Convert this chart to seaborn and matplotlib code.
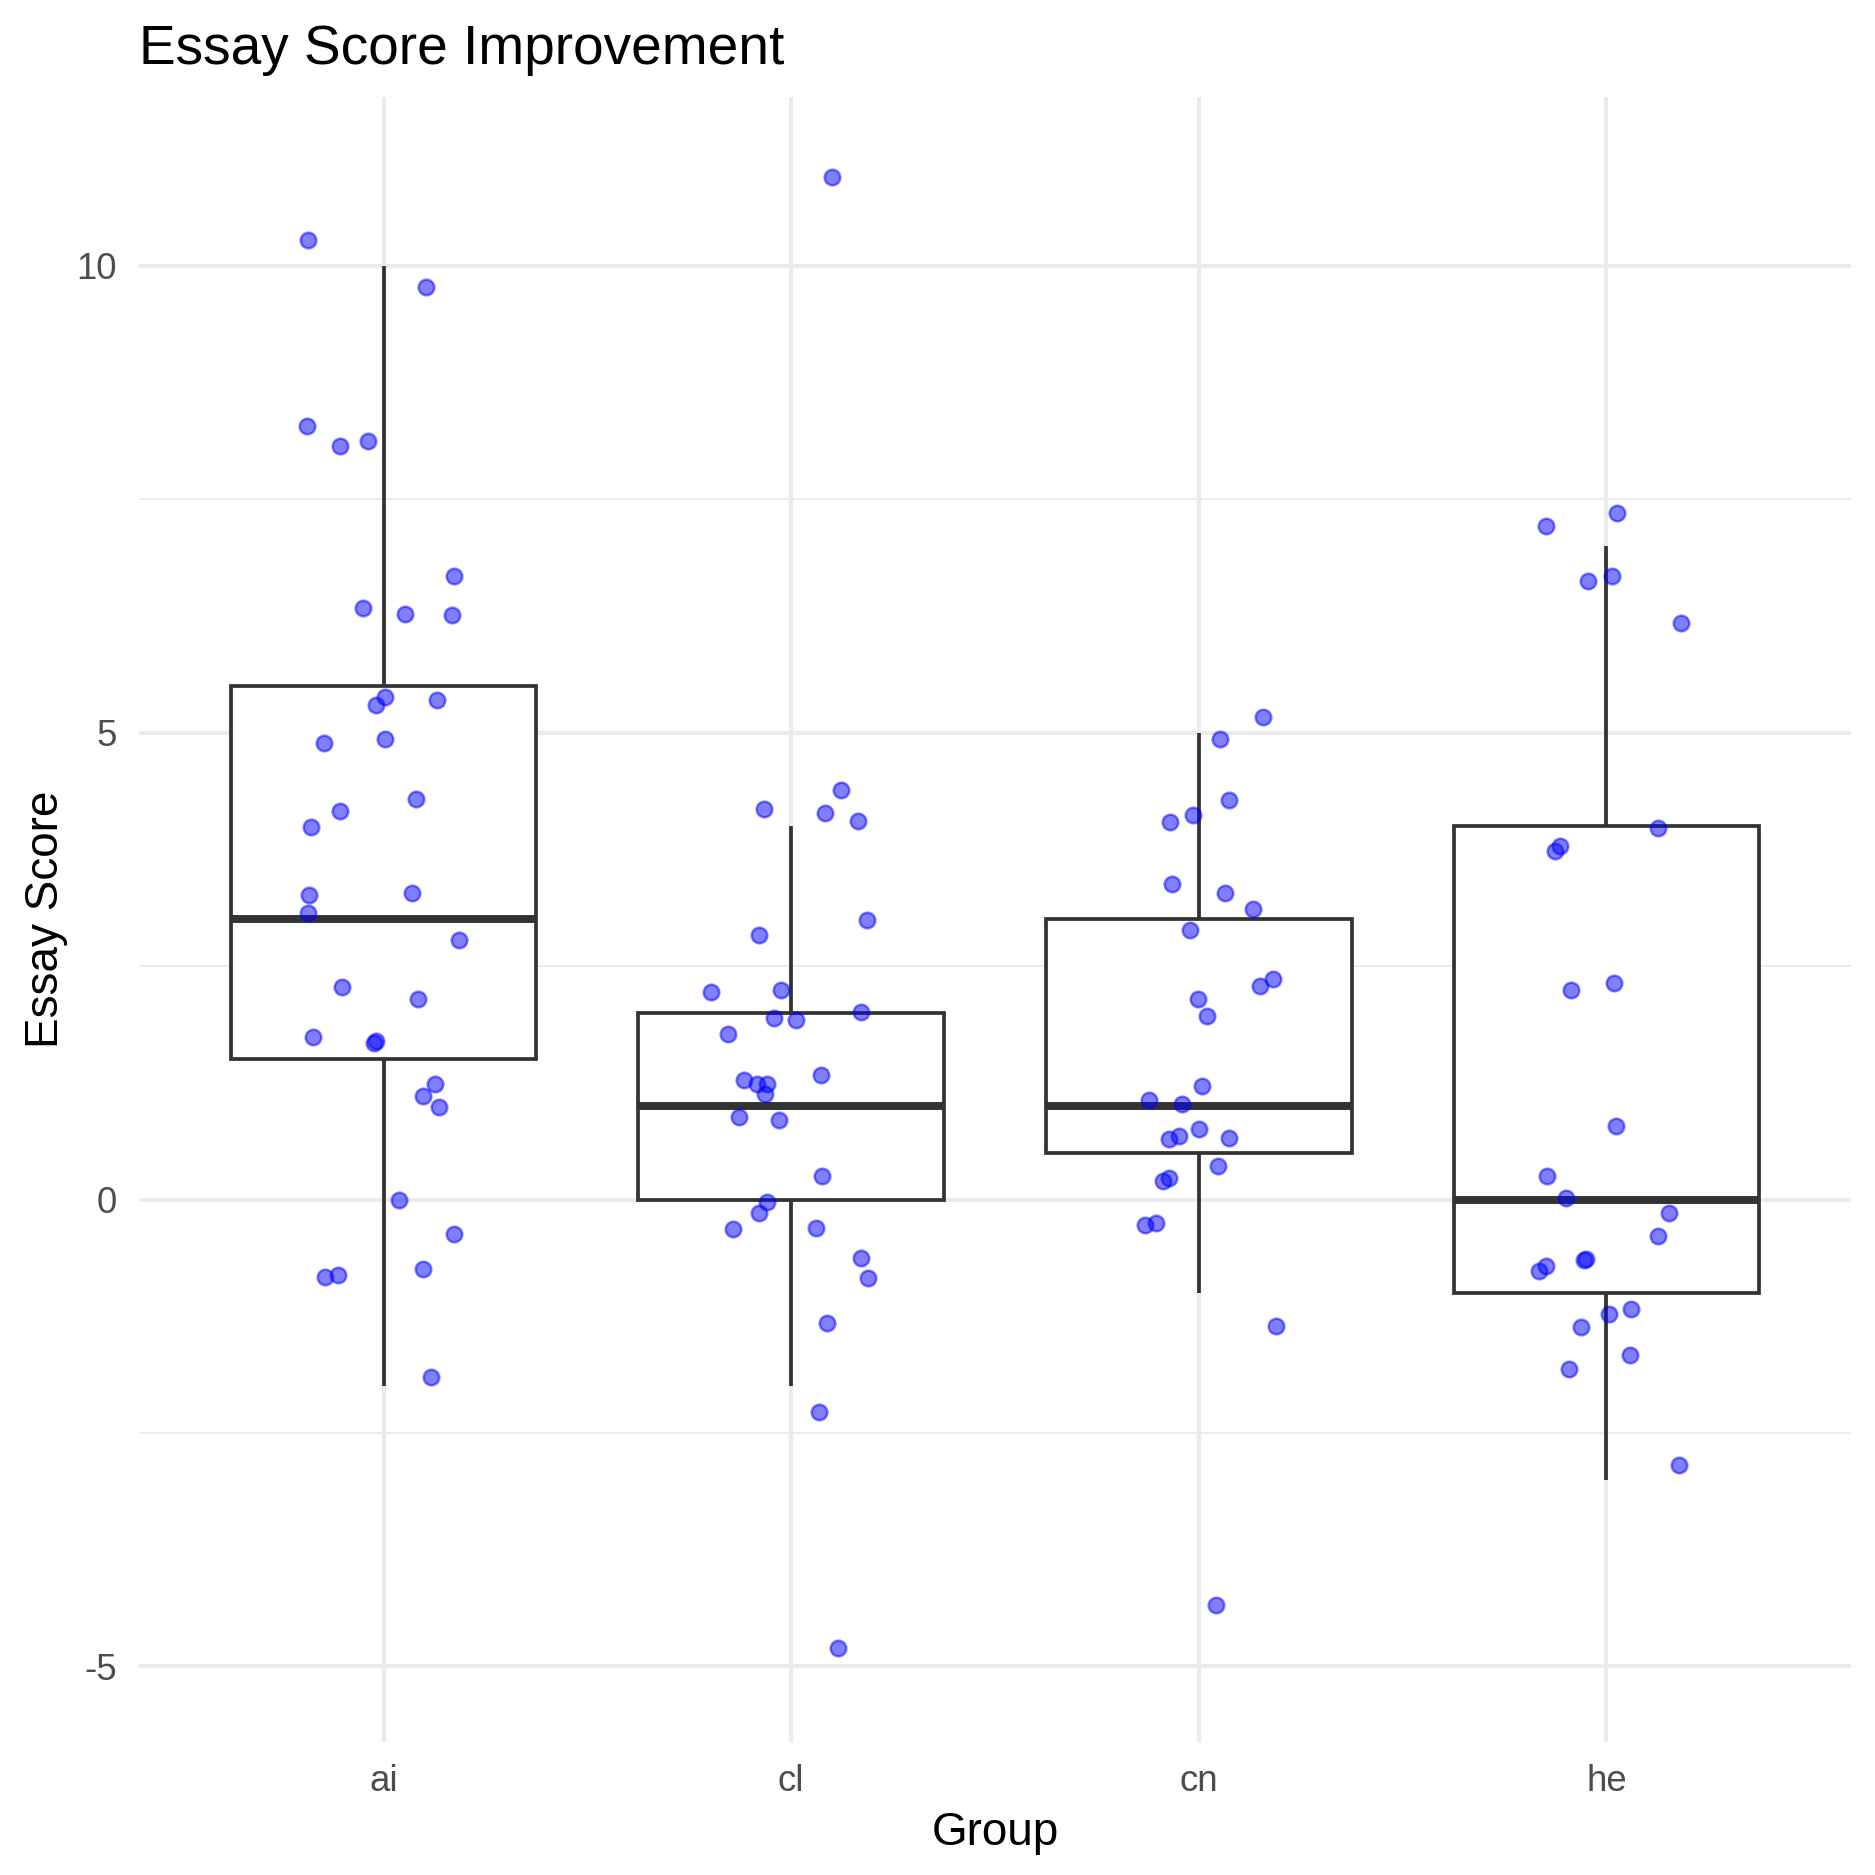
import numpy as np
import pandas as pd
import matplotlib
matplotlib.use("Agg")
import matplotlib.pyplot as plt
from matplotlib.ticker import MultipleLocator
import seaborn as sns

# ------------------------------
# data (scores per group + jitter used for the points)
# ------------------------------
groups = ["ai", "cl", "cn", "he"]

ai_scores = [10, 10, 8, 8, 8, 7, 6, 6, 6, 5, 5, 5, 5, 5, 4, 4, 4, 3, 3, 3, 3,
             2, 2, 2, 2, 2, 1, 1, 1, 0, 0, -1, -1, -1, -2]
ai_jitter_x = [-0.185, 0.103, -0.188, -0.106, -0.038, 0.173, -0.050, 0.053, 0.167, 0.003,
               -0.018, 0.132, -0.147, 0.003, 0.079, -0.106, -0.179, -0.182, 0.070, -0.185,
               0.185, -0.103, 0.085, -0.173, -0.018, -0.023, 0.126, 0.097, 0.135, 0.038,
               0.173, -0.144, -0.111, 0.097, 0.117]
ai_jitter_y = [0.28, -0.23, 0.28, 0.07, 0.12, -0.32, 0.34, 0.27, 0.26, 0.38,
               0.30, 0.35, -0.11, -0.07, 0.29, 0.16, -0.01, 0.26, 0.28, 0.07,
               -0.22, 0.28, 0.15, -0.26, -0.30, -0.32, 0.24, 0.11, -0.01, 0.00,
               -0.37, 0.17, 0.19, 0.26, 0.10]

cl_scores = [11, 4, 4, 4, 4, 3, 3, 2, 2, 2, 2, 2, 2, 1, 1, 1, 1, 1, 1, 1,
             0, 0, 0, 0, 0, -1, -1, -1, -2, -5]
cl_jitter_x = [0.100, 0.123, -0.066, 0.084, 0.164, 0.185, -0.080, -0.196, -0.026, 0.172,
               -0.041, 0.013, -0.154, 0.072, -0.115, -0.084, -0.060, -0.063, -0.127, -0.029,
               0.076, -0.059, -0.078, -0.142, 0.060, 0.172, 0.189, 0.087, 0.069, 0.116]
cl_jitter_y = [-0.05, 0.39, 0.18, 0.14, 0.05, -0.01, -0.17, 0.22, 0.24, 0.01,
               -0.06, -0.08, -0.23, 0.33, 0.28, 0.24, 0.24, 0.13, -0.12, -0.15,
               0.25, -0.03, -0.14, -0.32, -0.30, 0.37, 0.16, -0.32, -0.27, 0.20]

cn_scores = [5, 5, 4, 4, 4, 3, 3, 3, 3, 2, 2, 2, 2, 1, 1, 1, 1, 1, 1, 1,
             0, 0, 0, 0, 0, -1, -4]
cn_jitter_x = [0.158, 0.053, 0.073, -0.013, -0.070, -0.065, 0.065, 0.132, -0.021, 0.183,
               0.151, -0.001, 0.019, 0.009, -0.123, -0.040, 0.001, -0.048, -0.072, 0.073,
               0.048, -0.072, -0.087, -0.106, -0.133, 0.189, 0.043]
cn_jitter_y = [0.17, -0.07, 0.28, 0.12, 0.04, 0.38, 0.28, 0.11, -0.11, 0.36,
               0.29, 0.15, -0.03, 0.22, 0.07, 0.02, -0.24, -0.32, -0.35, -0.34,
               0.36, 0.23, 0.20, -0.25, -0.27, -0.35, -0.34]

he_scores = [7, 7, 7, 7, 6, 4, 4, 4, 2, 2, 1, 0, 0, 0, 0, -1, -1, -1, -1, -1,
             -1, -1, -2, -2, -3]
he_jitter_x = [0.026, -0.148, 0.014, -0.045, 0.183, 0.127, -0.113, -0.126, 0.019, -0.087,
               0.023, -0.146, -0.100, 0.154, 0.126, -0.147, -0.166, -0.054, -0.050, 0.060,
               0.007, -0.062, 0.058, -0.091, 0.178]
he_jitter_y = [0.35, 0.21, -0.32, -0.38, 0.17, -0.02, -0.21, -0.27, 0.32, 0.24,
               -0.21, 0.25, 0.02, -0.14, -0.39, 0.29, 0.23, 0.35, 0.36, -0.17,
               -0.23, -0.36, 0.34, 0.19, 0.16]

# ------------------------------
# long table
# ------------------------------
parts = []
for g, s, jx, jy in [("ai", ai_scores, ai_jitter_x, ai_jitter_y),
                     ("cl", cl_scores, cl_jitter_x, cl_jitter_y),
                     ("cn", cn_scores, cn_jitter_x, cn_jitter_y),
                     ("he", he_scores, he_jitter_x, he_jitter_y)]:
    parts.append(pd.DataFrame({"group": g, "score": s, "jx": jx, "jy": jy}))
df = pd.concat(parts, ignore_index=True)
df["x_pt"] = df["group"].map({g: i for i, g in enumerate(groups)}) + df["jx"]
df["y_pt"] = df["score"] + df["jy"]

# ------------------------------
# plot
# ------------------------------
sns.set_theme(style="whitegrid")
plt.rcParams["font.family"] = ["Liberation Sans", "DejaVu Sans"]
plt.rcParams["axes.unicode_minus"] = False

fig = plt.figure(figsize=(6.25, 6.25), dpi=300)
ax = fig.add_axes([0.0741, 0.0709, 0.9131, 0.8775])

sns.boxplot(data=df, x="group", y="score", order=groups, ax=ax,
            width=0.75, color="white", saturation=1, linecolor="#333333",
            linewidth=0.9, showfliers=False, showcaps=False, whis=1.5,
            medianprops={"linewidth": 1.9, "color": "#333333"})

sns.scatterplot(data=df, x="x_pt", y="y_pt", ax=ax, color="blue", alpha=0.5,
                s=14, edgecolor="blue", linewidth=0.6, zorder=3, legend=False)

ax.set_xlim(-0.6, 3.6)
ax.set_ylim(-5.81, 11.81)
ax.set_xticks(range(len(groups)), groups)
ax.yaxis.set_major_locator(MultipleLocator(5))
ax.yaxis.set_minor_locator(MultipleLocator(2.5))
ax.set_axisbelow(True)

ax.grid(False)
ax.xaxis.grid(True, which="major", color="#EBEBEB", linewidth=1.0)
ax.yaxis.grid(True, which="major", color="#EBEBEB", linewidth=1.0)
ax.yaxis.grid(True, which="minor", color="#EBEBEB", linewidth=0.5)
for sp in ax.spines.values():
    sp.set_visible(False)

ax.tick_params(axis="both", which="both", length=0, pad=5.3,
               labelsize=8.8, labelcolor="#4D4D4D")

ax.set_xlabel("Group", fontsize=11, color="black")
ax.set_ylabel("Essay Score", fontsize=11, color="black")
ax.xaxis.label.set_va("baseline")
ax.yaxis.label.set_va("baseline")
ax.xaxis.set_label_coords(0.5, -0.0626)
ax.yaxis.set_label_coords(-0.0473, 0.5)

fig.text(0.0742, 1 - 64 / 1875, "Essay Score Improvement", fontsize=13.2,
         ha="left", va="baseline", color="black")

fig.savefig("out.png", dpi=300, facecolor="white")
